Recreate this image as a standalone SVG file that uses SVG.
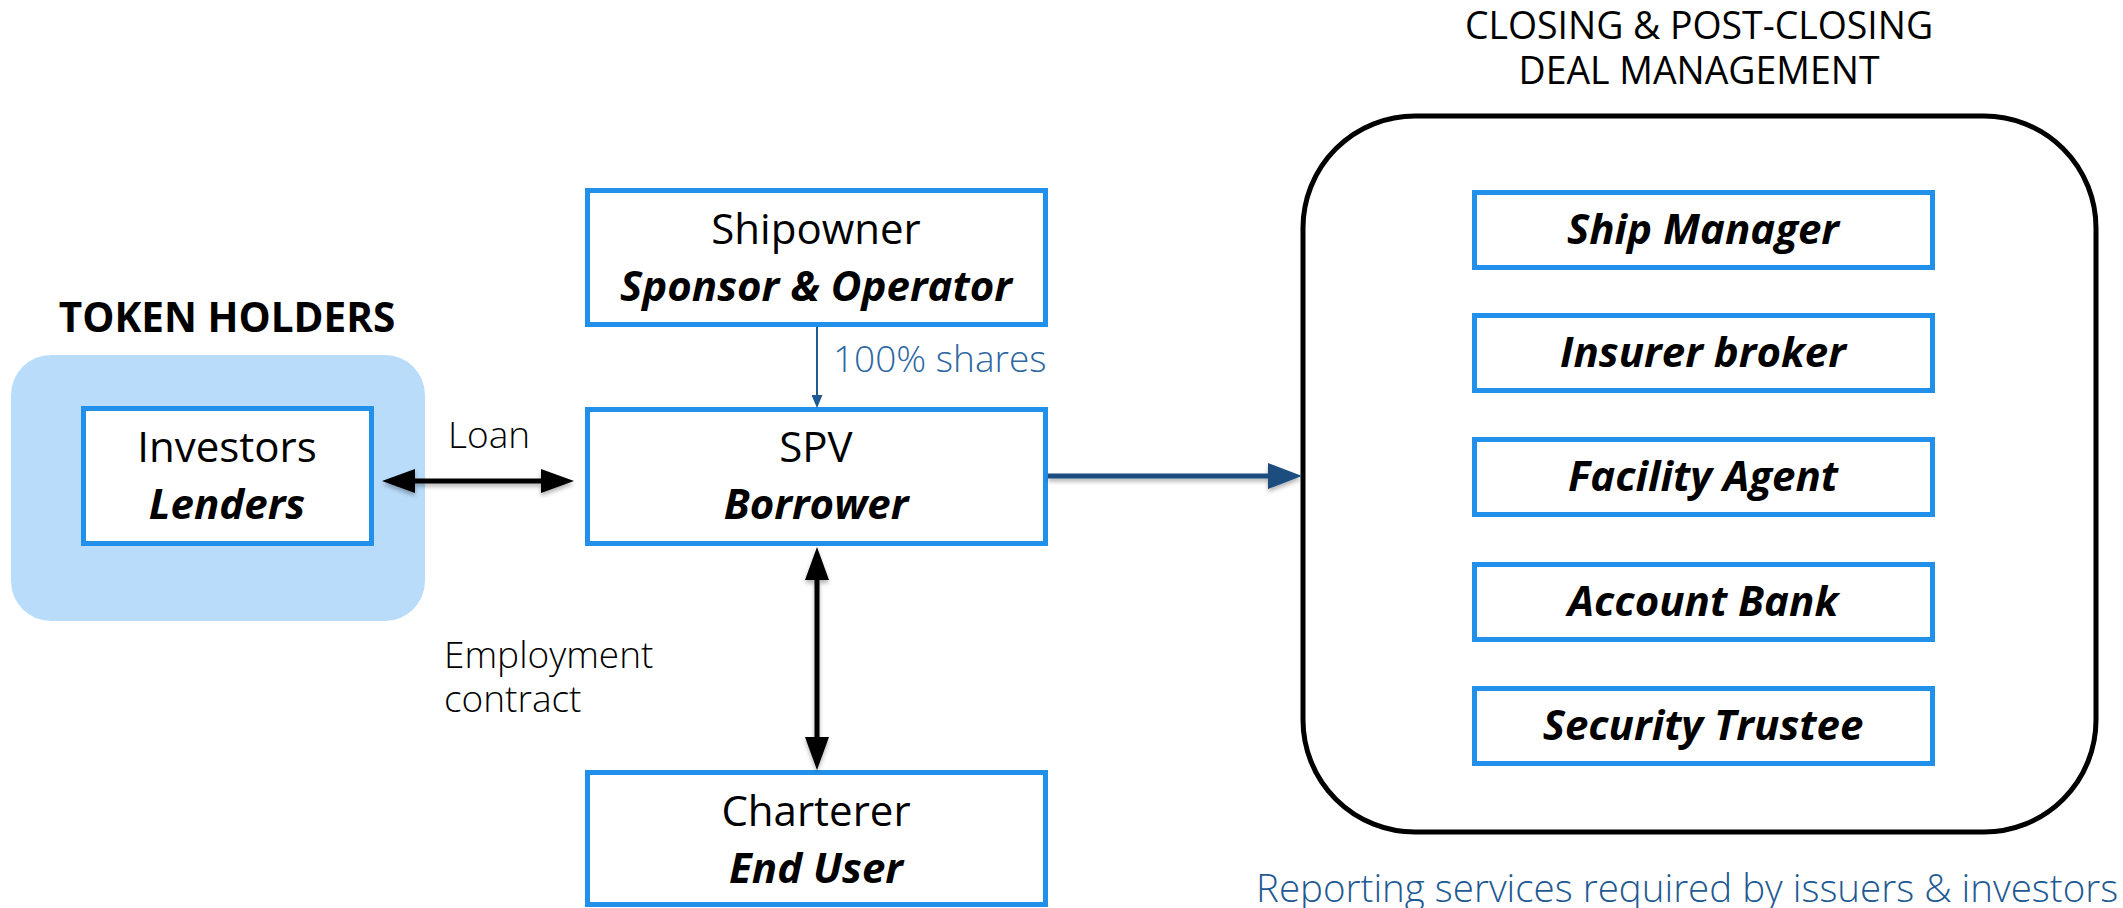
<svg xmlns="http://www.w3.org/2000/svg" width="2123" height="908" viewBox="0 0 2123 908">
<defs>
<style>
.box{fill:#ffffff;stroke:#2190ea;stroke-width:5}
.t{font-family:"Open Sans","Liberation Sans",sans-serif;fill:#000}
.reg{font-size:42px;font-weight:400;text-anchor:middle}
.bi{font-size:42px;font-weight:700;font-style:italic;text-anchor:middle}
.lbl{font-size:37px;font-weight:300}
.blk{stroke:#000;stroke-width:5;fill:none}
</style>
<marker id="ahB" markerUnits="userSpaceOnUse" markerWidth="33" markerHeight="24" viewBox="0 0 33 24" refX="0" refY="12" orient="auto-start-reverse"><polygon points="0,0 33,12 0,24" fill="#000"/></marker>
<marker id="ahD" markerUnits="userSpaceOnUse" markerWidth="34" markerHeight="26" viewBox="0 0 34 26" refX="0" refY="13" orient="auto"><polygon points="0,0 34,13 0,26" fill="#1a4e7e"/></marker>
<marker id="ahS" markerUnits="userSpaceOnUse" markerWidth="13" markerHeight="11" viewBox="0 0 13 11" refX="0" refY="5.5" orient="auto"><polygon points="0,0 13,5.5 0,11" fill="#1f5a93"/></marker>
<filter id="sh" filterUnits="userSpaceOnUse" x="0" y="0" width="2123" height="908"><feDropShadow dx="0" dy="3" stdDeviation="2" flood-color="#000" flood-opacity="0.3"/></filter>
</defs>
<rect width="2123" height="908" fill="#ffffff"/>

<g id="token-holders">
<text class="t" x="227" y="332" font-size="40.5" font-weight="700" text-anchor="middle">TOKEN HOLDERS</text>
<rect x="11" y="355" width="414" height="266" rx="40" ry="40" fill="#b9dcfb"/>
</g>

<g id="investors">
<rect class="box" x="83.5" y="408.5" width="288" height="135"/>
<text class="t reg" x="227" y="462">Investors</text>
<text class="t bi" x="227" y="519">Lenders</text>
</g>

<g id="shipowner">
<rect class="box" x="587.5" y="190.5" width="458" height="134"/>
<text class="t reg" x="816" y="244">Shipowner</text>
<text class="t bi" x="816" y="301">Sponsor &amp; Operator</text>
</g>

<g id="spv">
<rect class="box" x="587.5" y="409.5" width="458" height="134"/>
<text class="t reg" x="816" y="462">SPV</text>
<text class="t bi" x="816" y="519">Borrower</text>
</g>

<g id="charterer">
<rect class="box" x="587.5" y="772.5" width="458" height="132"/>
<text class="t reg" x="816" y="826">Charterer</text>
<text class="t bi" x="816" y="883">End User</text>
</g>

<g id="deal-management">
<text class="t" x="1699" y="39" font-size="37.4" text-anchor="middle">CLOSING &amp; POST-CLOSING</text>
<text class="t" x="1699" y="84" font-size="37.4" text-anchor="middle">DEAL MANAGEMENT</text>
<rect x="1303" y="116" width="793" height="716" rx="112" ry="112" fill="none" stroke="#000" stroke-width="5"/>
<text class="t" x="1256" y="902" font-size="38.5" font-weight="300" style="fill:#1f5a93">Reporting services required by issuers &amp; investors</text>
</g>

<g id="ship-manager">
<rect class="box" x="1474.5" y="192.5" width="458" height="75"/>
<text class="t bi" x="1703" y="244">Ship Manager</text>
</g>
<g id="insurer-broker">
<rect class="box" x="1474.5" y="315.5" width="458" height="75"/>
<text class="t bi" x="1703" y="367">Insurer broker</text>
</g>
<g id="facility-agent">
<rect class="box" x="1474.5" y="439.5" width="458" height="75"/>
<text class="t bi" x="1703" y="491">Facility Agent</text>
</g>
<g id="account-bank">
<rect class="box" x="1474.5" y="564.5" width="458" height="75"/>
<text class="t bi" x="1703" y="616">Account Bank</text>
</g>
<g id="security-trustee">
<rect class="box" x="1474.5" y="688.5" width="458" height="75"/>
<text class="t bi" x="1703" y="740">Security Trustee</text>
</g>

<g id="connectors">
<path class="blk" d="M415,481 H541" marker-start="url(#ahB)" marker-end="url(#ahB)" filter="url(#sh)"/>
<text class="t lbl" x="448" y="448">Loan</text>
<path d="M817,327 V395" stroke="#1f5a93" stroke-width="2" fill="none" marker-end="url(#ahS)"/>
<text class="t lbl" x="833" y="372" style="fill:#2d67a3">100% shares</text>
<path class="blk" d="M817,580 V737" marker-start="url(#ahB)" marker-end="url(#ahB)" filter="url(#sh)"/>
<text class="t lbl" x="444" y="668">Employment</text>
<text class="t lbl" x="444" y="712">contract</text>
<path d="M1048,476 H1268" stroke="#1a4e7e" stroke-width="5" fill="none" marker-end="url(#ahD)" filter="url(#sh)"/>
</g>
</svg>
